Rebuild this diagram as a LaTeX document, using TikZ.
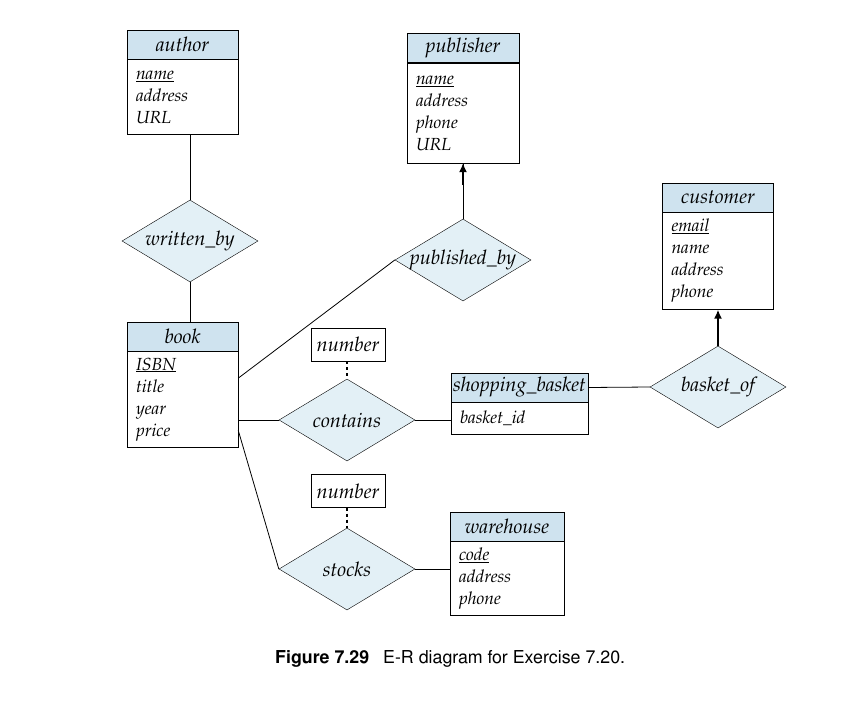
\documentclass[tikz,border=0pt]{standalone}
\usepackage[T1]{fontenc}
\usepackage{xcolor}
\usepackage{tikz}
\usetikzlibrary{shapes.geometric, arrows.meta, positioning}

\definecolor{entblue}{RGB}{207,227,239}
\definecolor{relblue}{RGB}{227,240,246}
\newcommand{\erfont}{\fontfamily{ppl}\itshape}

\begin{document}
\begin{tikzpicture}[
  x=1pt, y=-1pt,
  ent/.style={rectangle, draw, fill=entblue, minimum height=29pt,
              inner sep=0pt, font=\erfont\fontsize{20}{22}\selectfont},
  attr/.style={rectangle, draw, fill=white, align=left, inner xsep=9pt,
               inner ysep=0pt, font=\erfont\fontsize{17.5}{22}\selectfont},
  rel/.style={diamond, draw, fill=relblue, minimum width=136pt,
              minimum height=82pt, aspect=1.66, inner sep=-4pt,
              font=\erfont\fontsize{20}{22}\selectfont},
  num/.style={rectangle, draw, fill=white, minimum width=74pt,
              minimum height=33pt, inner sep=0pt,
              font=\erfont\fontsize{20}{22}\selectfont},
  conn/.style={line width=0.8pt},
  dashl/.style={line width=1.6pt, dash pattern=on 3pt off 3pt},
  arr/.style={line width=1.8pt, -{Latex[length=9pt,width=8pt]}}
]
\useasboundingbox (0,0) rectangle (844,704);

% entities
\node[ent, minimum width=111pt] (author) at (182.5,44.5) {author};
\node[attr, text width=93pt, minimum height=75pt, below=0pt of author]
  (author-body) {\underline{name}\\address\\URL};

\node[ent, minimum width=112pt] (publisher) at (463,48) {publisher};
\node[attr, text width=94pt, minimum height=100pt, below=0pt of publisher]
  (publisher-body) {\underline{name}\\address\\phone\\URL};

\node[ent, minimum width=111pt] (customer) at (718,197.5) {customer};
\node[attr, text width=93pt, minimum height=97pt, below=0pt of customer]
  (customer-body) {\underline{email}\\name\\address\\phone};

\node[ent, minimum width=111pt] (book) at (182.5,336.5) {book};
\node[attr, text width=93pt, minimum height=96pt, below=0pt of book]
  (book-body) {\underline{ISBN}\\title\\year\\price};

\node[ent, minimum width=137pt] (basket) at (519.5,387.5) {shopping\_basket};
\node[attr, text width=119pt, minimum height=32pt, below=0pt of basket]
  (basket-body) {basket\_id};

\node[ent, minimum width=114pt] (warehouse) at (507,526.5) {warehouse};
\node[attr, text width=96pt, minimum height=74pt, below=0pt of warehouse]
  (warehouse-body) {\underline{code}\\address\\phone};

% relationships
\node[rel] (writtenby) at (190,241) {written\_by};
\node[rel] (publishedby) at (463,260) {published\_by};
\node[rel] (contains) at (347,420) {contains};
\node[rel] (stocks) at (347,569) {stocks};
\node[rel] (basketof) at (718,387) {basket\_of};

\node[num] (num1) at (348,344.5) {number};
\node[num] (num2) at (348,491) {number};

% connectors
\draw[conn] (writtenby.north) -- (writtenby.north |- author-body.south);
\draw[conn] (writtenby.south) -- (writtenby.south |- book.north);
\draw[conn] ([yshift=-27pt]book-body.north east) -- (publishedby.west);
\draw[conn] (contains.west -| book-body.east) -- (contains.west);
\draw[conn] ([yshift=-79pt]book-body.north east) -- (stocks.west);
\draw[conn] (contains.east) -- (contains.east -| basket-body.west);
\draw[conn] (stocks.east) -- (stocks.east -| warehouse-body.west);
\draw[conn] (basket.east) -- (basketof.west);
\draw[dashl] (contains.north |- num1.south) -- (contains.north);
\draw[dashl] (stocks.north |- num2.south) -- (stocks.north);

\draw[conn] (publishedby.north) -- (publisher-body.south);
\draw[arr] ([yshift=-22pt]publisher-body.south) -- (publisher-body.south);
\draw[arr] (basketof.north) -- (customer-body.south);

% caption
\node[anchor=base west, inner sep=0pt,
      font=\fontfamily{phv}\fontsize{17.8}{21}\selectfont] (caption) at (275,663)
  {\textbf{Figure 7.29}\hspace{14pt}E-R diagram for Exercise 7.20.};
\end{tikzpicture}
\end{document}
